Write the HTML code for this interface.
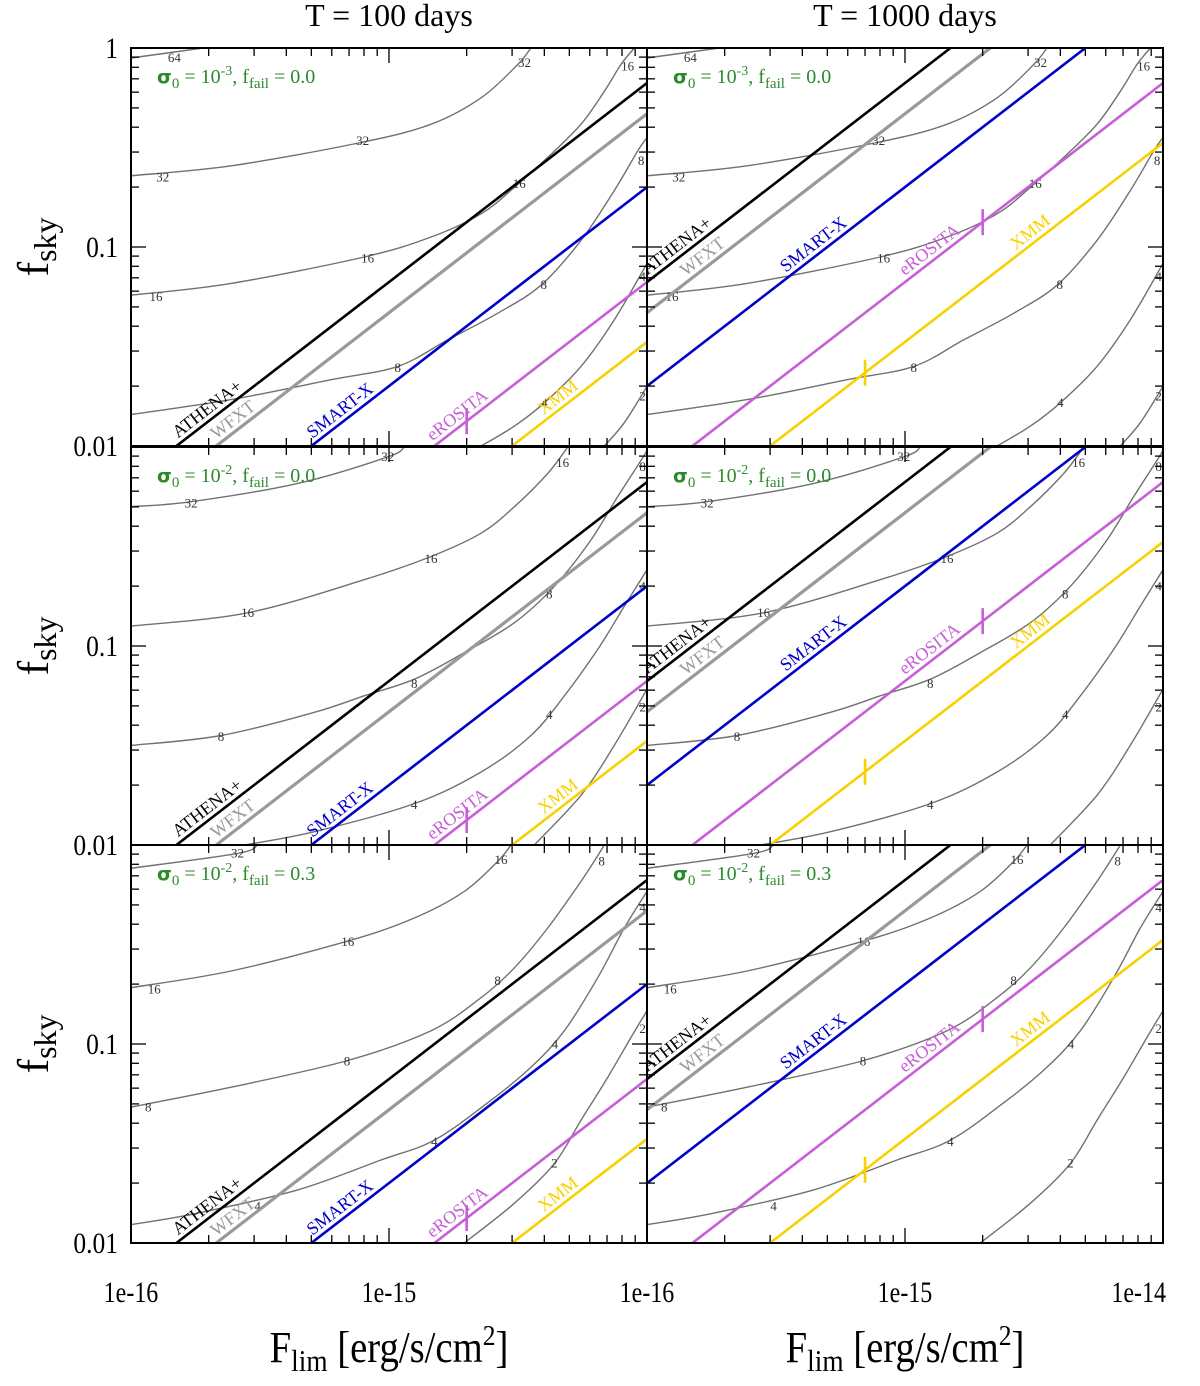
<!DOCTYPE html>
<html><head><meta charset="utf-8"><style>
html,body{margin:0;padding:0;background:#fff;overflow:hidden;}
svg{display:block;font-family:"Liberation Serif",serif;}
</style></head><body>
<svg id="chart" width="1200" height="1386" viewBox="0 0 1200 1386" xmlns="http://www.w3.org/2000/svg"></svg>
<script>
// ---- data ----
const columnTitles = ["T = 100 days", "T = 1000 days"];
const surveyTimes = [100, 1000];
const surveyNames = ["ATHENA+", "WFXT", "SMART-X", "eROSITA", "XMM"];
const surveyColors = ["#000000", "#999999", "#0000c8", "#c65fd6", "#f7d100"];
// limiting flux at which fsky = 0.01 for T = 100 days
const surveyFluxAt001 = [1.5e-16, 2.14e-16, 5e-16, 1.5e-15, 3e-15];
const surveyMarkFlux = [null, null, null, 2e-15, 7e-16];
const surveyLabelLogF = [[-15.68, -15.58, -15.165, -14.71, -14.32], [-15.86, -15.76, -15.33, -14.88, -14.49]];
const rowSigma = ["-3", "-2", "-2"];
const rowFail = ["0.0", "0.0", "0.3"];
// contours per row: [label, points [logF, log fsky]]
const contoursRow1 = [
  ["64", [[-16,-0.05],[-15.72,0]]],
  ["32", [[-16,-0.642],[-15.612,-0.592],[-15.109,-0.475],[-14.837,-0.383],[-14.643,-0.25],[-14.501,-0.083],[-14.45,0]]],
  ["16", [[-16,-1.242],[-15.612,-1.183],[-15.096,-1.05],[-14.837,-0.95],[-14.643,-0.833],[-14.514,-0.7],[-14.385,-0.55],[-14.256,-0.383],[-14.165,-0.217],[-14.101,-0.083],[-14.049,0]]],
  ["8", [[-16,-1.842],[-15.612,-1.767],[-15.225,-1.667],[-14.966,-1.6],[-14.773,-1.467],[-14.579,-1.333],[-14.411,-1.192],[-14.256,-0.967],[-14.127,-0.717],[-14.036,-0.517],[-14,-0.45]]],
  ["4", [[-14.643,-2],[-14.514,-1.9],[-14.398,-1.783],[-14.256,-1.6],[-14.127,-1.367],[-14,-1.083]]],
  ["2", [[-14.165,-2],[-14.088,-1.883],[-14,-1.7]]]
];
const labelsRow1 = [["64",-15.832,-0.05],["32",-15.877,-0.65],["32",-15.102,-0.467],["32",-14.475,-0.075],["16",-15.903,-1.25],["16",-15.083,-1.058],["16",-14.495,-0.683],["16",-14.075,-0.092],["8",-14.966,-1.608],["8",-14.4,-1.192],["8",-14.023,-0.567],["4",-14.398,-1.783],["4",-14.017,-1.15],["2",-14.017,-1.75]];
const contoursRow2 = [
  ["32", [[-16,-0.3],[-15.767,-0.275],[-15.354,-0.183],[-15.005,-0.05],[-14.941,0]]],
  ["16", [[-16,-0.9],[-15.548,-0.833],[-15.096,-0.667],[-14.837,-0.55],[-14.643,-0.433],[-14.514,-0.3],[-14.385,-0.133],[-14.307,0]]],
  ["8", [[-16,-1.5],[-15.651,-1.45],[-15.289,-1.333],[-15.096,-1.25],[-14.902,-1.167],[-14.708,-1.033],[-14.514,-0.883],[-14.359,-0.7],[-14.217,-0.467],[-14.114,-0.25],[-14.023,-0.067],[-14,-0.017]]],
  ["4", [[-15.561,-2],[-15.289,-1.933],[-14.902,-1.792],[-14.643,-1.633],[-14.45,-1.45],[-14.32,-1.25],[-14.191,-1.017],[-14.088,-0.8],[-14,-0.617]]],
  ["2", [[-14.437,-2],[-14.256,-1.75],[-14.127,-1.5],[-14,-1.217]]]
];
const labelsRow2 = [["32",-15.767,-0.283],["32",-15.005,-0.05],["16",-15.548,-0.833],["16",-14.837,-0.563],["16",-14.327,-0.08],["8",-15.651,-1.458],["8",-14.902,-1.192],["8",-14.379,-0.742],["8",-14.017,-0.1],["4",-14.902,-1.8],["4",-14.379,-1.347],["4",-14.017,-0.7],["2",-14.017,-1.308]];
const contoursRow3 = [
  ["32", [[-16,-0.117],[-15.587,-0.042],[-15.509,0]]],
  ["16", [[-16,-0.717],[-15.612,-0.633],[-15.16,-0.483],[-14.902,-0.367],[-14.708,-0.233],[-14.579,-0.083],[-14.527,0]]],
  ["8", [[-16,-1.317],[-15.612,-1.217],[-15.16,-1.083],[-14.837,-0.933],[-14.643,-0.767],[-14.514,-0.617],[-14.385,-0.417],[-14.256,-0.183],[-14.165,0]]],
  ["4", [[-16,-1.908],[-15.742,-1.85],[-15.354,-1.733],[-15.031,-1.583],[-14.824,-1.483],[-14.605,-1.283],[-14.45,-1.117],[-14.32,-0.933],[-14.191,-0.667],[-14.088,-0.417],[-14,-0.233]]],
  ["2", [[-14.708,-2],[-14.514,-1.8],[-14.359,-1.6],[-14.256,-1.383],[-14.152,-1.167],[-14.062,-0.967],[-14,-0.833]]]
];
const labelsRow3 = [["32",-15.587,-0.042],["16",-15.91,-0.725],["16",-15.16,-0.487],["16",-14.566,-0.075],["8",-15.933,-1.32],["8",-15.163,-1.087],["8",-14.579,-0.683],["8",-14.176,-0.083],["4",-15.509,-1.817],["4",-14.824,-1.492],["4",-14.357,-1.003],["4",-14.017,-0.317],["2",-14.359,-1.6],["2",-14.017,-0.925]];
const rowContours = [contoursRow1, contoursRow2, contoursRow3];
const rowLabels = [labelsRow1, labelsRow2, labelsRow3];
const xTickLabels = ["1e-16", "1e-15", "1e-14"];
const yTickLabels = ["0.01", "0.1", "1"];

// ---- layout ----
const NS = "http://www.w3.org/2000/svg";
const svg = document.getElementById("chart");
const colX = [131, 647], panelW = 516;
const rowY = [48, 447, 845], panelH = 398;
const logFmin = -16, logFmax = -14, logYmin = -2, logYmax = 0;
function xs(c, logF) { return colX[c] + (logF - logFmin) / (logFmax - logFmin) * panelW; }
function ys(r, logf) { return rowY[r] + (logYmax - logf) / (logYmax - logYmin) * panelH; }
function mk(tag, attrs, parent) {
  const e = document.createElementNS(NS, tag);
  for (const k in attrs) e.setAttribute(k, attrs[k]);
  (parent || svg).appendChild(e);
  return e;
}
function smoothPath(pts) {
  let d = "M" + pts[0][0].toFixed(1) + "," + pts[0][1].toFixed(1);
  for (let i = 0; i < pts.length - 1; i++) {
    const p0 = pts[i - 1] || pts[i], p1 = pts[i], p2 = pts[i + 1], p3 = pts[i + 2] || p2;
    const c1x = p1[0] + (p2[0] - p0[0]) / 6, c1y = p1[1] + (p2[1] - p0[1]) / 6;
    const c2x = p2[0] - (p3[0] - p1[0]) / 6, c2y = p2[1] - (p3[1] - p1[1]) / 6;
    d += "C" + c1x.toFixed(1) + "," + c1y.toFixed(1) + " " + c2x.toFixed(1) + "," + c2y.toFixed(1) + " " + p2[0].toFixed(1) + "," + p2[1].toFixed(1);
  }
  return d;
}
const defs = mk("defs", {});

for (let r = 0; r < 3; r++) {
  for (let c = 0; c < 2; c++) {
    const g = mk("g", {});
    
    
    const cp = mk("clipPath", { id: "cp" + r + c }, defs);
    mk("rect", { x: colX[c], y: rowY[r], width: panelW, height: panelH }, cp);
    const inner = mk("g", { "clip-path": "url(#cp" + r + c + ")" }, g);
    rowContours[r].forEach(ct => {
      const pts = ct[1].map(p => [xs(c, p[0]), ys(r, p[1])]);
      const pth = mk("path", { d: smoothPath(pts), fill: "none", stroke: "#717171", "stroke-width": 1.4 }, inner);
      
      
    });
    rowLabels[r].forEach(lb => {
      const t = mk("text", { x: xs(c, lb[1]), y: ys(r, lb[2]) + 4, "font-size": 13, fill: "#333", "text-anchor": "middle" }, inner);
      t.textContent = lb[0];
      
      
    });
    const tf = Math.log10(surveyTimes[c] / 100);
    const ang = -Math.atan((panelH / 2) / (panelW / 2)) * 180 / Math.PI;
    surveyNames.forEach((nm, i) => {
      const f0 = Math.log10(surveyFluxAt001[i]);
      const yAt = lf => -2 + (lf - f0) + tf;
      const x1 = -16, x2 = -14;
      const ln = mk("line", { x1: xs(c, x1), y1: ys(r, yAt(x1)), x2: xs(c, x2), y2: ys(r, yAt(x2)), stroke: surveyColors[i], "stroke-width": i === 1 ? 3.2 : 2.6 }, inner);
      
      
      if (surveyMarkFlux[i]) {
        const lm = Math.log10(surveyMarkFlux[i]);
        const mx = xs(c, lm), my = ys(r, yAt(lm));
        const tk = mk("line", { x1: mx, y1: my - 13, x2: mx, y2: my + 13, stroke: surveyColors[i], "stroke-width": 2.6 }, inner);
        
        
      }
      const ll = surveyLabelLogF[c][i];
      const lx = xs(c, ll), ly = ys(r, yAt(ll));
      const t = mk("text", { x: lx, y: ly, "font-size": 18, fill: surveyColors[i], "text-anchor": "middle", transform: "rotate(" + ang + " " + lx + " " + ly + ") translate(0,-5)" }, inner);
      t.textContent = nm;
      
      
    });
    const an = mk("text", { x: colX[c] + 26, y: rowY[r] + 35, "font-size": 20, fill: "#2a8a2a" }, g);
    an.innerHTML = '<tspan font-family="DejaVu Sans" font-weight="bold" font-size="19">σ</tspan><tspan dy="5" font-size="15">0</tspan><tspan dy="-5"> = 10</tspan><tspan dy="-8" font-size="14">' + rowSigma[r] + '</tspan><tspan dy="8">, f</tspan><tspan dy="5" font-size="15">fail</tspan><tspan dy="-5"> = ' + rowFail[r] + '</tspan>';
    
    
    const tg = mk("g", { stroke: "#000", "stroke-width": 1.3 }, g);
    for (let dec = -16; dec < -14; dec++) {
      for (let m = 1; m <= 9; m++) {
        const x = xs(c, dec + Math.log10(m)), L = m === 1 ? 15 : 8;
        mk("line", { x1: x, y1: rowY[r], x2: x, y2: rowY[r] + L }, tg);
        mk("line", { x1: x, y1: rowY[r] + panelH, x2: x, y2: rowY[r] + panelH - L }, tg);
      }
    }
    for (let dec = -2; dec < 0; dec++) {
      for (let m = 1; m <= 9; m++) {
        const y = ys(r, dec + Math.log10(m)), L = m === 1 ? 15 : 8;
        mk("line", { x1: colX[c], y1: y, x2: colX[c] + L, y2: y }, tg);
        mk("line", { x1: colX[c] + panelW, y1: y, x2: colX[c] + panelW - L, y2: y }, tg);
      }
    }
    const fr = mk("rect", { x: colX[c], y: rowY[r], width: panelW, height: panelH, fill: "none", stroke: "#000", "stroke-width": 2 }, g);
    
    
  }
  const labs = r === 0 ? [0, 1, 2] : [0, 1];
  labs.forEach(k => {
    const t = mk("text", { x: 0, y: 0, "font-size": 30, "text-anchor": "end", transform: "translate(118," + (ys(r, -2 + k) + 10) + ") scale(0.85,1)" });
    t.textContent = yTickLabels[k];
    
    
  });
  const yl = mk("text", { x: 0, y: 0, "font-size": 44, "text-anchor": "middle", transform: "translate(48," + (rowY[r] + panelH / 2) + ") rotate(-90)" });
  yl.innerHTML = 'f<tspan dy="8" font-size="32">sky</tspan>';
  
  
}
for (let c = 0; c < 2; c++) {
  const tt = mk("text", { x: colX[c] + panelW / 2, y: 26, "font-size": 32, "text-anchor": "middle" });
  tt.textContent = columnTitles[c];
  
  
  xTickLabels.forEach((lab, k) => {
    if (c === 0 && k === 2) return;
    const x = xs(c, -16 + k);
    const last = (c === 1 && k === 2);
    const t = mk("text", { x: 0, y: 0, "font-size": 30, "text-anchor": last ? "end" : "middle", transform: "translate(" + (last ? 1166 : x) + ",1302) scale(0.8,1)" });
    t.textContent = lab;
    
    
  });
  const xl = mk("text", { x: 0, y: 0, "font-size": 44, "text-anchor": "middle", transform: "translate(" + (colX[c] + panelW / 2) + ",1362) scale(0.88,1)" });
  xl.innerHTML = 'F<tspan dy="9" font-size="31">lim</tspan><tspan dy="-9"> [erg/s/cm</tspan><tspan dy="-17" font-size="29">2</tspan><tspan dy="17">]</tspan>';
  
  
}
</script>
</body></html>
